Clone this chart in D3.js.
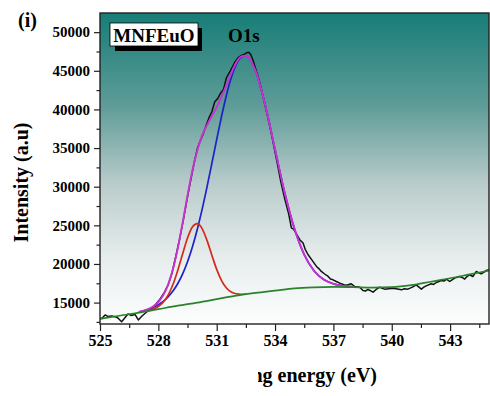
<!DOCTYPE html>
<html>
<head>
<meta charset="utf-8">
<script src="https://cdn.jsdelivr.net/npm/d3@7"></script>
<style>
  body { margin: 0; background: #fff; }
  svg { display: block; }
  text { font-family: "Liberation Serif", "Times New Roman", serif; font-weight: bold; fill: #000; }
</style>
</head>
<body>
<svg id="chart" width="490" height="396"></svg>
<script>
// O1s high-resolution spectrum of MNFEuO: raw counts, Shirley-type background and fitted components.

const xTicks = [525, 528, 531, 534, 537, 540, 543];
const yTicks = [15000, 20000, 25000, 30000, 35000, 40000, 45000, 50000];

// Measured spectrum (binding energy in eV, counts)
const rawEnergy = [
  525.0, 525.09, 525.26, 525.41, 525.6, 525.77, 525.92, 526.11, 526.23, 526.44, 526.59, 526.8, 526.97, 527.16, 527.4, 527.57,
  527.75, 527.9, 528.1, 528.3, 528.5, 528.7, 528.9, 529.1, 529.3, 529.5, 529.7, 529.85, 530.0, 530.15, 530.3, 530.45,
  530.6, 530.75, 530.9, 531.05, 531.2, 531.35, 531.5, 531.7, 531.93, 532.1, 532.25, 532.4, 532.55, 532.65, 532.75, 532.85,
  533.0, 533.2, 533.4, 533.6, 533.8, 533.95, 534.1, 534.3, 534.5, 534.7, 534.84, 534.95, 535.1, 535.27, 535.44, 535.55,
  535.7, 535.9, 536.13, 536.25, 536.38, 536.55, 536.73, 536.85, 536.98, 537.15, 537.41, 537.6, 537.75, 537.92, 538.1, 538.35,
  538.52, 538.65, 538.78, 538.9, 539.04, 539.2, 539.38, 539.5, 539.64, 539.85, 540.06, 540.3, 540.5, 540.65, 540.83, 541.06,
  541.26, 541.4, 541.52, 541.65, 541.77, 542.03, 542.15, 542.29, 542.54, 542.7, 542.81, 542.98, 543.1, 543.23, 543.49, 543.62,
  543.75, 543.88, 544.0, 544.17, 544.35, 544.47, 544.6, 544.75, 544.86, 545.0
];
const rawCounts = [
  12970, 12950, 13400, 13210, 13270, 13180, 13010, 12530, 12880, 13530, 13340, 13470, 12750, 13270, 13790, 14050,
  14450, 14900, 15500, 16300, 17250, 18800, 21000, 23300, 25900, 28700, 31300, 33200, 34900, 35900, 36800, 37900,
  38900, 39700, 41000, 41400, 42100, 42600, 44100, 45000, 46100, 46700, 46950, 47100, 47350, 47400, 47100, 46500,
  45300, 43600, 41500, 39300, 37000, 35100, 33200, 30600, 28400, 26500, 24660, 24500, 23900, 23140, 22710, 21900,
  21190, 20500, 19680, 19400, 19030, 18700, 18380, 18050, 17950, 17730, 17430, 17250, 17300, 17430, 17080, 17000,
  16560, 16500, 16700, 16550, 16350, 16700, 17000, 16850, 16740, 16800, 16870, 16750, 16650, 16800, 16740, 17000,
  17300, 17000, 16740, 17000, 17170, 17430, 17350, 17600, 17860, 17800, 18040, 17730, 17950, 18170, 18380, 18250,
  18040, 18400, 18600, 18380, 19030, 18850, 18730, 18950, 19160, 19250
];

// Background
const bgEnergy = [525, 526, 527, 528, 529, 530, 531, 532, 533, 534, 535, 536, 537, 538, 539, 540, 541, 542, 543, 544, 545];
const bgCounts = [12900, 13300, 13700, 14150, 14600, 15000, 15450, 15900, 16250, 16550, 16850, 16980, 17030, 17000, 16950, 17000, 17250, 17700, 18150, 18650, 19150];

// Lattice-oxygen component (red)
const redEnergy = [527.5, 527.75, 528.0, 528.25, 528.5, 528.75, 529.0, 529.25, 529.5, 529.75, 530.0,
                   530.25, 530.5, 530.75, 531.0, 531.25, 531.5, 531.75, 532.0, 532.25, 532.5];
const redCounts = [13974, 14176, 14499, 15047, 15957, 17336, 19195, 21331, 23362, 24791, 25227,
                   24574, 23058, 21140, 19297, 17844, 16886, 16362, 16144, 16080, 16107];

// Main component (blue) and cumulative envelope (magenta)
const fitEnergy = [527.0, 527.25, 527.5, 527.75, 528.0, 528.25, 528.5, 528.75, 529.0, 529.25, 529.5, 529.75,
                   530.0, 530.25, 530.5, 530.75, 531.0, 531.25, 531.5, 531.75, 532.0, 532.25, 532.5,
                   533.0, 533.5, 534.0, 534.5, 535.0, 535.5, 536.0, 536.5, 537.0, 537.5, 538.0];
const blueCounts = [13777, 13945, 14147, 14400, 14728, 15159, 15733, 16487, 17474, 18723, 20288, 22199,
                    24462, 27064, 29943, 32999, 36107, 39111, 41838, 44119, 45802, 46745, 46912,
                    44947, 40499, 34812, 29187, 24553, 21207, 19134, 17982, 17430, 17163, 17049];
const envelopeCounts = [13781, 13961, 14196, 14539, 15077, 15944, 17315, 19336, 22069, 25354, 28850, 32090,
                        34650, 36650, 37950, 39150, 40300, 41650, 43150, 44700, 46046, 46838, 46944,
                        44947, 40499, 34812, 29187, 24553, 21207, 19134, 17982, 17430, 17163, 17049];

const svg = d3.select("#chart");
const m = { left: 100, right: 489, top: 13, bottom: 324 };

const x = d3.scaleLinear().domain([525, 545]).range([m.left, m.right]);
const y = d3.scaleLinear().domain([12230, 52480]).range([m.bottom, m.top]);

// Plot background gradient
const defs = svg.append("defs");
const grad = defs.append("linearGradient").attr("id", "bgGrad")
  .attr("x1", 0).attr("y1", 0).attr("x2", 0).attr("y2", 1);
[[0, "#177d77"], [0.3, "#5f9c98"], [0.55, "#b9cccb"], [0.78, "#e6ecec"], [1, "#fdfefe"]]
  .forEach(([o, c]) => grad.append("stop").attr("offset", o).attr("stop-color", c));

defs.append("clipPath").attr("id", "plotClip").append("rect")
  .attr("x", m.left).attr("y", m.top).attr("width", m.right - m.left).attr("height", m.bottom - m.top);
defs.append("clipPath").attr("id", "titleClip").append("rect")
  .attr("x", 258).attr("y", 350).attr("width", 232).attr("height", 46);

svg.append("rect").attr("x", m.left).attr("y", m.top)
  .attr("width", m.right - m.left).attr("height", m.bottom - m.top)
  .attr("fill", "url(#bgGrad)");

// Curves
const plot = svg.append("g").attr("clip-path", "url(#plotClip)");
const mkLine = (es, vs, curve) => d3.line().curve(curve)
  .x((d, i) => x(es[i])).y((d, i) => y(vs[i]))(vs);

plot.append("path").attr("d", mkLine(rawEnergy, rawCounts, d3.curveLinear))
  .attr("fill", "none").attr("stroke", "#111").attr("stroke-width", 1.5).attr("stroke-linejoin", "round");
plot.append("path").attr("d", mkLine(fitEnergy, blueCounts, d3.curveMonotoneX))
  .attr("fill", "none").attr("stroke", "#1e22c8").attr("stroke-width", 1.7);
plot.append("path").attr("d", mkLine(redEnergy, redCounts, d3.curveMonotoneX))
  .attr("fill", "none").attr("stroke", "#d42a1a").attr("stroke-width", 1.7);
plot.append("path").attr("d", mkLine(fitEnergy, envelopeCounts, d3.curveMonotoneX))
  .attr("fill", "none").attr("stroke", "#c832d0").attr("stroke-width", 1.9);
plot.append("path").attr("d", mkLine(bgEnergy, bgCounts, d3.curveMonotoneX))
  .attr("fill", "none").attr("stroke", "#2a822a").attr("stroke-width", 1.7);

// Axes
const minorX = d3.range(526.5, 545, 3);
const minorY = d3.range(12500, 52480, 5000);

const xAxis = svg.append("g").attr("transform", `translate(0,${m.bottom})`)
  .call(d3.axisBottom(x).tickValues(xTicks).tickFormat(d3.format("d")).tickSize(7).tickPadding(4));
svg.append("g").attr("transform", `translate(0,${m.bottom})`)
  .call(d3.axisBottom(x).tickValues(minorX).tickFormat("").tickSize(4));
const yAxis = svg.append("g").attr("transform", `translate(${m.left},0)`)
  .call(d3.axisLeft(y).tickValues(yTicks).tickFormat(d3.format("d")).tickSize(6).tickPadding(4));
svg.append("g").attr("transform", `translate(${m.left},0)`)
  .call(d3.axisLeft(y).tickValues(minorY).tickFormat("").tickSize(3.5));

svg.selectAll(".domain").remove();
svg.selectAll(".tick line").attr("stroke", "#222").attr("stroke-width", 1.2);
xAxis.selectAll("text").attr("font-size", 16).attr("font-family", "Liberation Serif").attr("font-weight", "bold");
yAxis.selectAll("text").attr("font-size", 15).attr("font-family", "Liberation Serif").attr("font-weight", "bold");

// Frame
svg.append("rect").attr("x", m.left).attr("y", m.top)
  .attr("width", m.right - m.left).attr("height", m.bottom - m.top)
  .attr("fill", "none").attr("stroke", "#222").attr("stroke-width", 1.4);

// Axis titles
svg.append("text").attr("transform", "translate(28,182.5) rotate(-90)")
  .attr("text-anchor", "middle").attr("font-size", 20).text("Intensity (a.u)");
svg.append("g").attr("clip-path", "url(#titleClip)")
  .append("text").attr("x", 377).attr("y", 382).attr("text-anchor", "end")
  .attr("font-size", 20).text("Binding energy (eV)");

// Panel label
svg.append("text").attr("x", 18).attr("y", 27).attr("font-size", 20).text("(i)");

// Sample label box with drop shadow
svg.append("rect").attr("x", 115).attr("y", 28).attr("width", 87).attr("height", 23).attr("fill", "#000");
svg.append("rect").attr("x", 110).attr("y", 23).attr("width", 88).attr("height", 23)
  .attr("fill", "#fff").attr("stroke", "#000").attr("stroke-width", 0.8);
svg.append("text").attr("x", 154).attr("y", 41.5).attr("text-anchor", "middle")
  .attr("font-size", 19).text("MNFEuO");

// Core level label
svg.append("text").attr("x", 228).attr("y", 41.5).attr("font-size", 19).text("O1s");
</script>
</body>
</html>
